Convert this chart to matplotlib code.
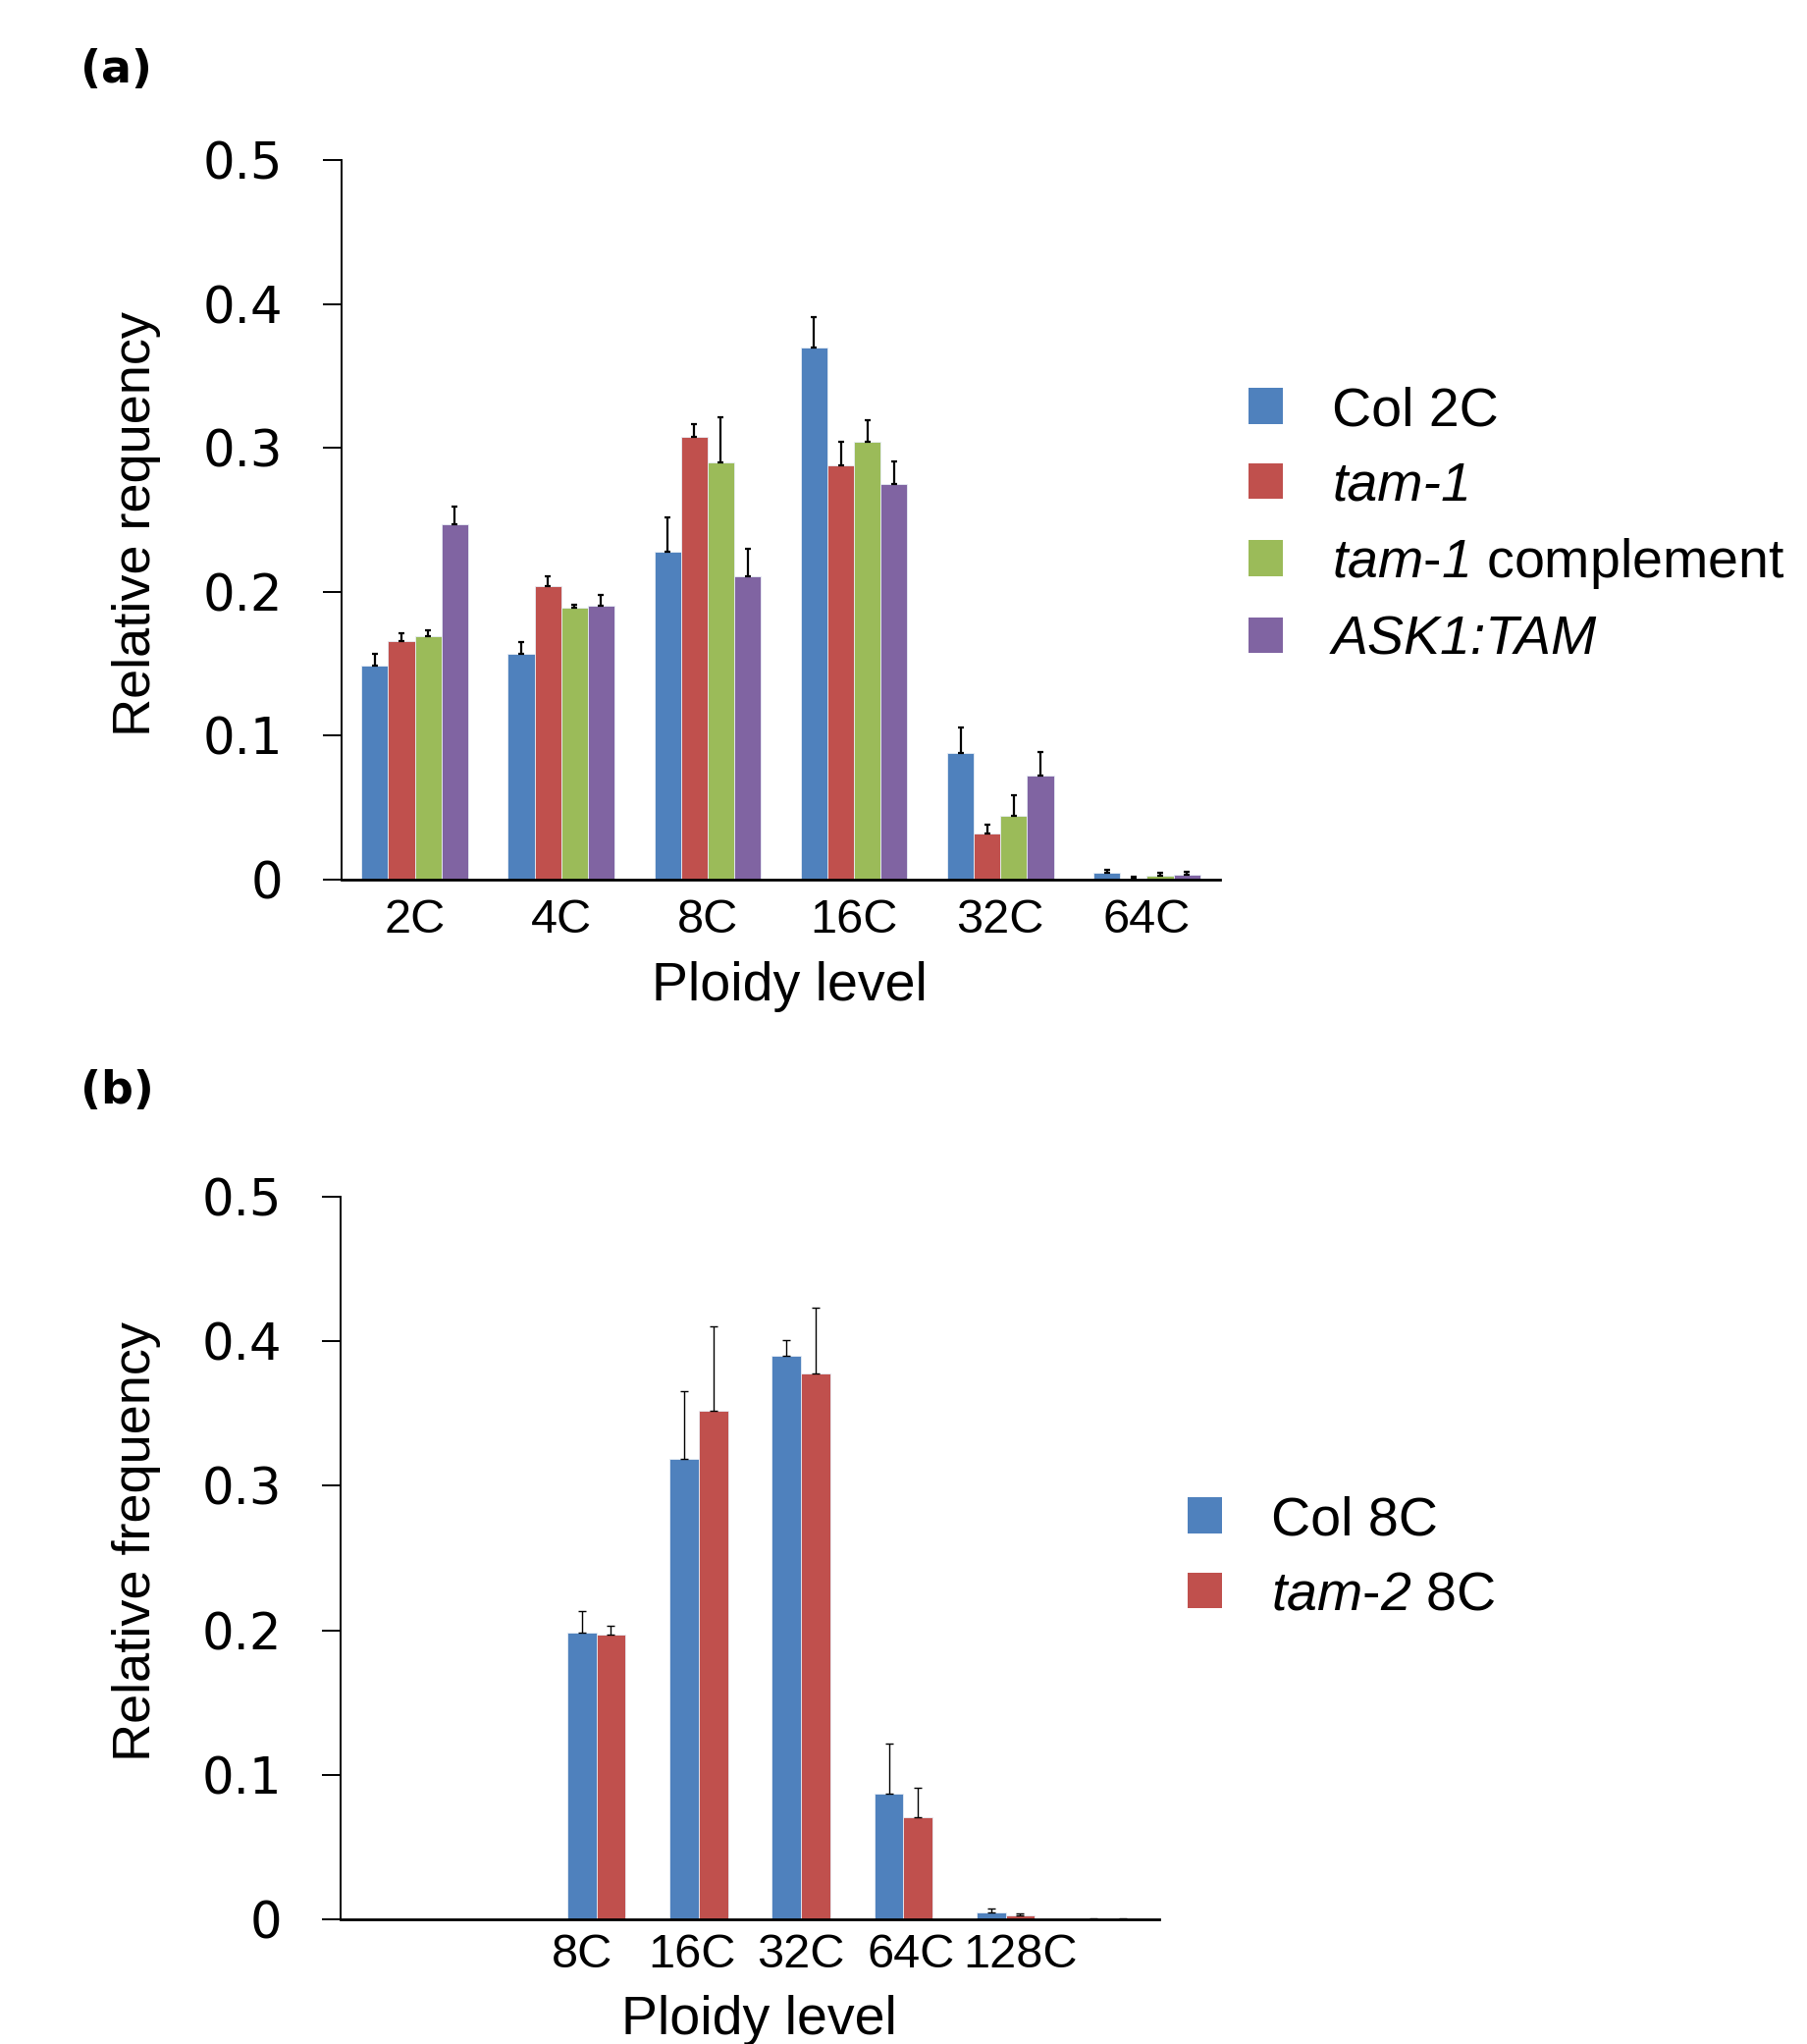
import numpy as np
import matplotlib.pyplot as plt
from matplotlib.patches import Patch

# math text only used for the italic gene names in the legends
plt.rcParams['mathtext.fontset'] = 'custom'
plt.rcParams['mathtext.rm'] = 'Liberation Sans:italic'
plt.rcParams['mathtext.it'] = 'Liberation Sans:italic'

# (a) ploidy distribution, four lines
levels_a = ['2C', '4C', '8C', '16C', '32C', '64C']
col_2c = [0.149, 0.157, 0.228, 0.370, 0.088, 0.0047]
col_2c_err = [0.008, 0.008, 0.024, 0.021, 0.018, 0.002]
tam1 = [0.166, 0.204, 0.3075, 0.288, 0.032, 0.001]
tam1_err = [0.005, 0.007, 0.009, 0.016, 0.0065, 0.0008]
tam1_comp = [0.1695, 0.189, 0.290, 0.304, 0.044, 0.0027]
tam1_comp_err = [0.004, 0.002, 0.031, 0.015, 0.015, 0.0024]
ask1_tam = [0.247, 0.1905, 0.2105, 0.2746, 0.0725, 0.0034]
ask1_tam_err = [0.012, 0.0075, 0.0195, 0.016, 0.0165, 0.002]

# (b) 8C sorted nuclei
levels_b = ['', '', '8C', '16C', '32C', '64C', '128C', '']
col_8c = [np.nan, np.nan, 0.1985, 0.3185, 0.390, 0.087, 0.0049, 0.0003]
col_8c_err = [np.nan, np.nan, 0.0145, 0.047, 0.011, 0.0345, 0.0024, 0.0004]
tam2_8c = [np.nan, np.nan, 0.1967, 0.352, 0.3775, 0.0704, 0.0028, 0.0002]
tam2_8c_err = [np.nan, np.nan, 0.0063, 0.058, 0.0455, 0.0205, 0.001, 0.0003]

blue = '#4F81BD'
red = '#C0504D'
green = '#9BBB59'
purple = '#8064A2'

W, H = 1841, 2082
fig = plt.figure(figsize=(W / 100, H / 100), dpi=100)


def style_axis(ax, n):
    ax.set_xlim(-0.5, n - 0.5)
    ax.set_ylim(0, 0.5)
    ax.set_yticks([0, 0.1, 0.2, 0.3, 0.4, 0.5])
    ax.set_yticklabels(['0', '0.1', '0.2', '0.3', '0.4', '0.5'],
                       fontfamily='DejaVu Sans', fontsize=37)
    ax.spines['top'].set_visible(False)
    ax.spines['right'].set_visible(False)
    ax.spines['left'].set_linewidth(1.4)
    ax.spines['bottom'].set_linewidth(2.0)
    ax.tick_params(axis='y', direction='out', length=14, width=1.4, pad=29)
    ax.tick_params(axis='x', length=0, pad=14)


def draw_bars(ax, series, errs, colors, width, elw, cap):
    n = len(series)
    x = np.arange(len(series[0]))
    for i in range(n):
        pos = x + (i - (n - 1) / 2) * width
        ax.bar(pos, series[i], width, color=colors[i], edgecolor='#e8eef6',
               linewidth=0.6, zorder=2)
        vals = np.array(series[i], dtype=float)
        e = np.array(errs[i], dtype=float)
        # only the upper half of the error bar is shown
        ax.errorbar(pos, vals, yerr=[np.zeros_like(e), e], fmt='none',
                    ecolor='black', elinewidth=elw, capsize=cap, capthick=elw,
                    zorder=3)


# ---- panel (a)
ax1 = fig.add_axes([348 / W, 1 - 896 / H, (1243 - 348) / W, (896 - 163) / H])
draw_bars(ax1, [col_2c, tam1, tam1_comp, ask1_tam],
          [col_2c_err, tam1_err, tam1_comp_err, ask1_tam_err],
          [blue, red, green, purple], 0.182, 1.6, 2.5)
style_axis(ax1, len(levels_a))
ax1.set_xticks(np.arange(len(levels_a)))
ax1.set_xticklabels(levels_a, fontfamily='Liberation Sans', fontsize=35)
ax1.set_xlabel('Ploidy level', fontfamily='Liberation Sans', fontsize=40, va='center')
ax1.xaxis.set_label_coords(0.51, -0.149)
ax1.set_ylabel('Relative requency', fontfamily='Liberation Sans', fontsize=39,
               va='center', ha='center')
ax1.yaxis.set_label_coords(-0.2335, 0.495)

labels_a = ['Col 2C', 'tam-1', r'$\mathrm{tam}$-$\mathrm{1}$ complement', 'ASK1:TAM']
handles_a = [Patch(facecolor=c) for c in [blue, red, green, purple]]
leg1 = fig.legend(handles_a, labels_a, loc='upper left',
                  bbox_to_anchor=(1272 / W, 1 - 393 / H), frameon=False,
                  prop={'family': 'Liberation Sans', 'size': 40},
                  handlelength=0.63, handleheight=0.63, handletextpad=0.9,
                  labelspacing=0.44, borderpad=0, borderaxespad=0)
leg1.get_texts()[1].set_fontstyle('italic')
leg1.get_texts()[3].set_fontstyle('italic')

fig.text(82 / W, 1 - 71 / H, '(a)', fontfamily='DejaVu Sans', fontweight='bold',
         fontsize=33, va='center', ha='left')

# ---- panel (b)
ax2 = fig.add_axes([347 / W, 1 - 1955 / H, (1181 - 347) / W, (1955 - 1219) / H])
draw_bars(ax2, [col_8c, tam2_8c], [col_8c_err, tam2_8c_err],
          [blue, red], 0.285, 1.0, 3)
style_axis(ax2, len(levels_b))
# the category labels in the original sit a little wider apart than the bars
ax2.set_xticks(4 + (np.arange(len(levels_b)) - 4) * 1.07)
ax2.set_xticklabels(levels_b, fontfamily='Liberation Sans', fontsize=35)
ax2.tick_params(axis='x', pad=10)
ax2.set_xlabel('Ploidy level', fontfamily='Liberation Sans', fontsize=40, va='center')
ax2.xaxis.set_label_coords(0.511, -0.14)
ax2.set_ylabel('Relative frequency', fontfamily='Liberation Sans', fontsize=39,
               va='center', ha='center')
ax2.yaxis.set_label_coords(-0.249, 0.523)

labels_b = ['Col 8C', r'$\mathrm{tam}$-$\mathrm{2}$ 8C']
handles_b = [Patch(facecolor=c) for c in [blue, red]]
leg2 = fig.legend(handles_b, labels_b, loc='upper left',
                  bbox_to_anchor=(1210 / W, 1 - 1523 / H), frameon=False,
                  prop={'family': 'Liberation Sans', 'size': 40},
                  handlelength=0.63, handleheight=0.63, handletextpad=0.9,
                  labelspacing=0.44, borderpad=0, borderaxespad=0)

fig.text(82 / W, 1 - 1112 / H, '(b)', fontfamily='DejaVu Sans', fontweight='bold',
         fontsize=33, va='center', ha='left')

fig.savefig('out.png', dpi=100)
